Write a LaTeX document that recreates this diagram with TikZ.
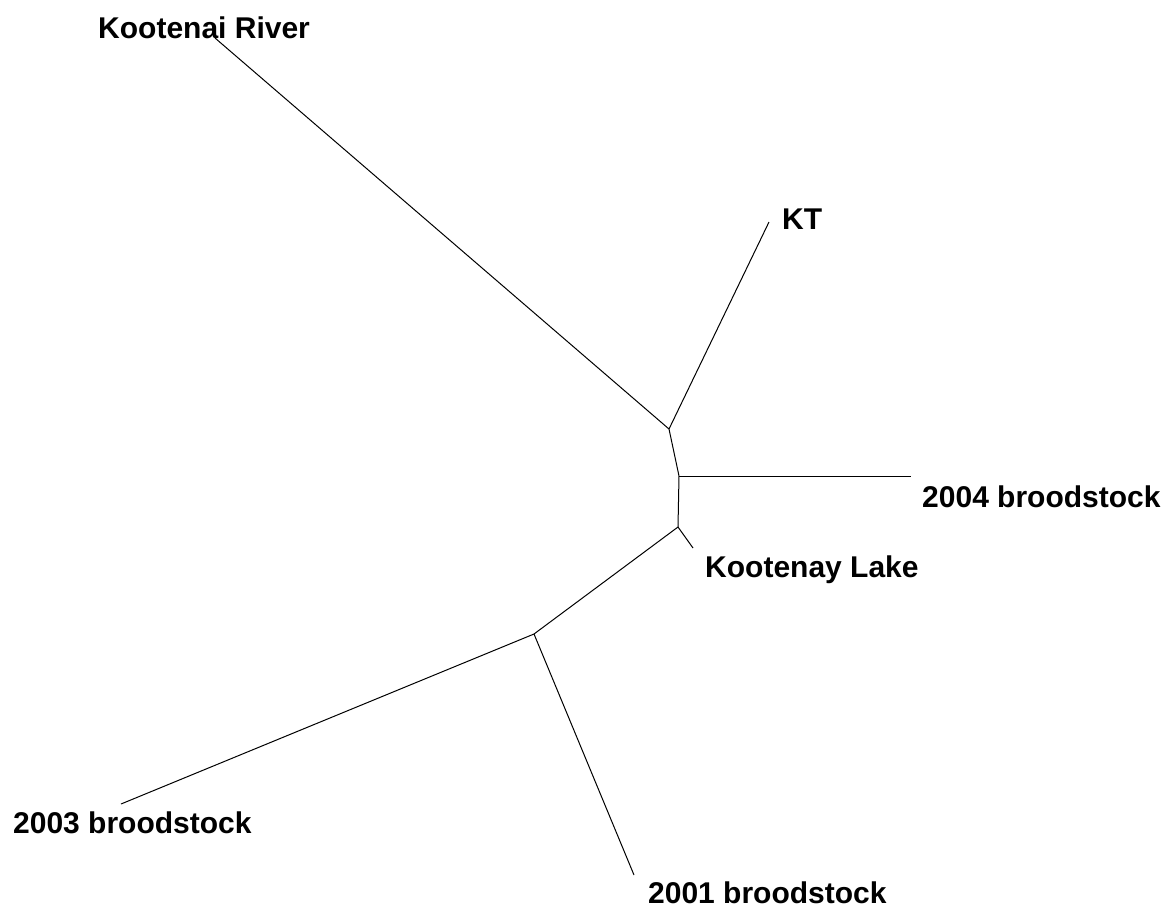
\documentclass[tikz,border=0pt]{standalone}
\usepackage{fontspec}
\setmainfont{Liberation Sans}
\begin{document}
\begin{tikzpicture}[x=1pt,y=-1pt,
  lbl/.style={anchor=base west,inner sep=0pt,font=\fontsize{30}{36}\selectfont\bfseries},
  branch/.style={line width=1pt,black}]
\useasboundingbox (0,0) rectangle (1170,911);
% internal nodes
\coordinate (A) at (669,429);
\coordinate (B) at (679,476);
\coordinate (C) at (678,527);
\coordinate (D) at (534,634);
% tips
\coordinate (tKR) at (215,38);
\coordinate (tKT) at (769,222);
\coordinate (t04) at (911,476);
\coordinate (tKL) at (693,548);
\coordinate (t03) at (121,804);
\coordinate (t01) at (634,875);
% branches
\draw[branch] (A) -- (tKR);
\draw[branch] (A) -- (tKT);
\draw[branch] (A) -- (B);
\draw[branch] (B) -- (t04);
\draw[branch] (B) -- (C);
\draw[branch] (C) -- (tKL);
\draw[branch] (C) -- (D);
\draw[branch] (D) -- (t03);
\draw[branch] (D) -- (t01);
% labels
\node[lbl] (lKR) at (98,38) {Kootenai River};
\node[lbl] (lKT) at (782,229) {KT};
\node[lbl] (l04) at (922,507) {2004 broodstock};
\node[lbl] (lKL) at (705,577) {Kootenay Lake};
\node[lbl] (l03) at (13,833) {2003 broodstock};
\node[lbl] (l01) at (648,903) {2001 broodstock};
\end{tikzpicture}
\end{document}
